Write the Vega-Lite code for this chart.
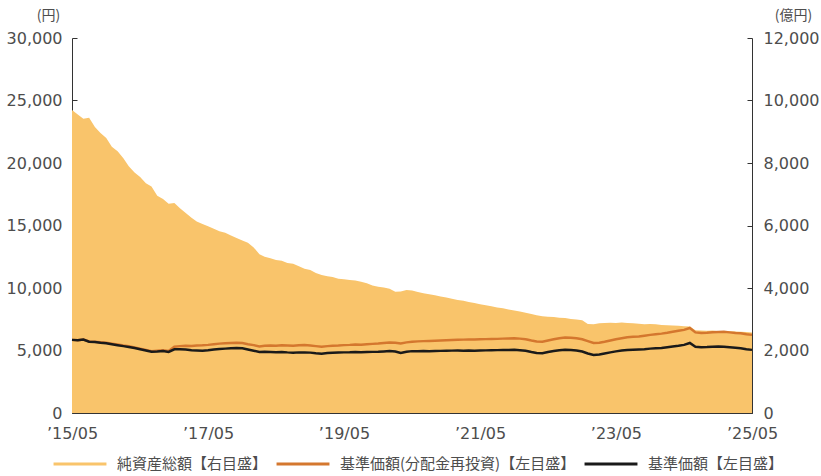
{
"$schema": "https://vega.github.io/schema/vega-lite/v6.json",
"width": 680, "height": 375,
"autosize": {"type": "none"},
"padding": {"left": 72, "top": 38, "right": 69, "bottom": 63},
"background": "white",
"config": {
  "view": {"stroke": null},
  "font": "Noto Sans CJK JP",
  "axis": {"grid": false, "domainColor": "#333333", "domainWidth": 1, "tickColor": "#333333", "tickWidth": 1, "tickSize": -5, "labelColor": "#4d4d4d", "labelFont": "DejaVu Sans, Noto Sans CJK JP", "labelFontSize": 16, "titleFont": "Noto Sans CJK JP", "titleFontSize": 14, "titleFontWeight": "normal", "titleColor": "#4d4d4d"}
},
"data": {"values": [
{"d":"2015-05-01","nav":9700,"reinv":5850,"price":5850},
{"d":"2015-06-01","nav":9550,"reinv":5820,"price":5820},
{"d":"2015-07-01","nav":9420,"reinv":5880,"price":5880},
{"d":"2015-08-01","nav":9450,"reinv":5720,"price":5700},
{"d":"2015-09-01","nav":9150,"reinv":5700,"price":5680},
{"d":"2015-10-01","nav":8960,"reinv":5660,"price":5620},
{"d":"2015-11-01","nav":8800,"reinv":5620,"price":5580},
{"d":"2015-12-01","nav":8520,"reinv":5550,"price":5500},
{"d":"2016-01-01","nav":8380,"reinv":5480,"price":5420},
{"d":"2016-02-01","nav":8150,"reinv":5400,"price":5350},
{"d":"2016-03-01","nav":7900,"reinv":5350,"price":5280},
{"d":"2016-04-01","nav":7700,"reinv":5250,"price":5200},
{"d":"2016-05-01","nav":7550,"reinv":5150,"price":5100},
{"d":"2016-06-01","nav":7350,"reinv":5050,"price":5000},
{"d":"2016-07-01","nav":7250,"reinv":4950,"price":4900},
{"d":"2016-08-01","nav":6950,"reinv":4980,"price":4920},
{"d":"2016-09-01","nav":6850,"reinv":5020,"price":4960},
{"d":"2016-10-01","nav":6700,"reinv":4960,"price":4880},
{"d":"2016-11-01","nav":6720,"reinv":5300,"price":5100},
{"d":"2016-12-01","nav":6550,"reinv":5350,"price":5100},
{"d":"2017-01-01","nav":6400,"reinv":5380,"price":5080},
{"d":"2017-02-01","nav":6250,"reinv":5360,"price":5020},
{"d":"2017-03-01","nav":6130,"reinv":5400,"price":5000},
{"d":"2017-04-01","nav":6050,"reinv":5420,"price":4980},
{"d":"2017-05-01","nav":5980,"reinv":5450,"price":5020},
{"d":"2017-06-01","nav":5900,"reinv":5500,"price":5080},
{"d":"2017-07-01","nav":5820,"reinv":5550,"price":5120},
{"d":"2017-08-01","nav":5770,"reinv":5580,"price":5150},
{"d":"2017-09-01","nav":5680,"reinv":5600,"price":5180},
{"d":"2017-10-01","nav":5600,"reinv":5620,"price":5200},
{"d":"2017-11-01","nav":5520,"reinv":5600,"price":5180},
{"d":"2017-12-01","nav":5450,"reinv":5500,"price":5080},
{"d":"2018-01-01","nav":5300,"reinv":5430,"price":4980},
{"d":"2018-02-01","nav":5080,"reinv":5330,"price":4880},
{"d":"2018-03-01","nav":5000,"reinv":5380,"price":4900},
{"d":"2018-04-01","nav":4950,"reinv":5400,"price":4880},
{"d":"2018-05-01","nav":4900,"reinv":5380,"price":4860},
{"d":"2018-06-01","nav":4870,"reinv":5420,"price":4880},
{"d":"2018-07-01","nav":4800,"reinv":5400,"price":4850},
{"d":"2018-08-01","nav":4780,"reinv":5380,"price":4830},
{"d":"2018-09-01","nav":4700,"reinv":5420,"price":4850},
{"d":"2018-10-01","nav":4620,"reinv":5430,"price":4850},
{"d":"2018-11-01","nav":4580,"reinv":5400,"price":4830},
{"d":"2018-12-01","nav":4480,"reinv":5350,"price":4780},
{"d":"2019-01-01","nav":4420,"reinv":5300,"price":4750},
{"d":"2019-02-01","nav":4380,"reinv":5350,"price":4800},
{"d":"2019-03-01","nav":4350,"reinv":5380,"price":4820},
{"d":"2019-04-01","nav":4300,"reinv":5400,"price":4840},
{"d":"2019-05-01","nav":4280,"reinv":5430,"price":4850},
{"d":"2019-06-01","nav":4260,"reinv":5450,"price":4860},
{"d":"2019-07-01","nav":4240,"reinv":5480,"price":4880},
{"d":"2019-08-01","nav":4200,"reinv":5470,"price":4870},
{"d":"2019-09-01","nav":4150,"reinv":5500,"price":4880},
{"d":"2019-10-01","nav":4080,"reinv":5530,"price":4890},
{"d":"2019-11-01","nav":4040,"reinv":5560,"price":4900},
{"d":"2019-12-01","nav":4020,"reinv":5600,"price":4920},
{"d":"2020-01-01","nav":3980,"reinv":5640,"price":4950},
{"d":"2020-02-01","nav":3880,"reinv":5620,"price":4920},
{"d":"2020-03-01","nav":3890,"reinv":5560,"price":4800},
{"d":"2020-04-01","nav":3940,"reinv":5650,"price":4900},
{"d":"2020-05-01","nav":3920,"reinv":5700,"price":4950},
{"d":"2020-06-01","nav":3870,"reinv":5730,"price":4950},
{"d":"2020-07-01","nav":3830,"reinv":5750,"price":4960},
{"d":"2020-08-01","nav":3800,"reinv":5760,"price":4950},
{"d":"2020-09-01","nav":3770,"reinv":5780,"price":4960},
{"d":"2020-10-01","nav":3730,"reinv":5800,"price":4970},
{"d":"2020-11-01","nav":3700,"reinv":5820,"price":4980},
{"d":"2020-12-01","nav":3660,"reinv":5840,"price":4990},
{"d":"2021-01-01","nav":3620,"reinv":5860,"price":5000},
{"d":"2021-02-01","nav":3590,"reinv":5870,"price":4990},
{"d":"2021-03-01","nav":3550,"reinv":5880,"price":5000},
{"d":"2021-04-01","nav":3520,"reinv":5880,"price":4990},
{"d":"2021-05-01","nav":3480,"reinv":5900,"price":5000},
{"d":"2021-06-01","nav":3450,"reinv":5910,"price":5010},
{"d":"2021-07-01","nav":3420,"reinv":5920,"price":5020},
{"d":"2021-08-01","nav":3380,"reinv":5930,"price":5030},
{"d":"2021-09-01","nav":3350,"reinv":5950,"price":5040},
{"d":"2021-10-01","nav":3310,"reinv":5960,"price":5040},
{"d":"2021-11-01","nav":3280,"reinv":5980,"price":5050},
{"d":"2021-12-01","nav":3250,"reinv":5950,"price":5020},
{"d":"2022-01-01","nav":3210,"reinv":5900,"price":4980},
{"d":"2022-02-01","nav":3170,"reinv":5800,"price":4880},
{"d":"2022-03-01","nav":3130,"reinv":5720,"price":4800},
{"d":"2022-04-01","nav":3100,"reinv":5700,"price":4780},
{"d":"2022-05-01","nav":3080,"reinv":5800,"price":4880},
{"d":"2022-06-01","nav":3070,"reinv":5900,"price":4960},
{"d":"2022-07-01","nav":3050,"reinv":5980,"price":5020},
{"d":"2022-08-01","nav":3040,"reinv":6030,"price":5060},
{"d":"2022-09-01","nav":3010,"reinv":6020,"price":5040},
{"d":"2022-10-01","nav":2990,"reinv":5980,"price":5000},
{"d":"2022-11-01","nav":2970,"reinv":5900,"price":4920},
{"d":"2022-12-01","nav":2850,"reinv":5750,"price":4760},
{"d":"2023-01-01","nav":2840,"reinv":5600,"price":4640},
{"d":"2023-02-01","nav":2870,"reinv":5620,"price":4680},
{"d":"2023-03-01","nav":2880,"reinv":5700,"price":4760},
{"d":"2023-04-01","nav":2890,"reinv":5800,"price":4850},
{"d":"2023-05-01","nav":2880,"reinv":5900,"price":4930},
{"d":"2023-06-01","nav":2900,"reinv":5980,"price":5000},
{"d":"2023-07-01","nav":2880,"reinv":6060,"price":5040},
{"d":"2023-08-01","nav":2870,"reinv":6100,"price":5060},
{"d":"2023-09-01","nav":2860,"reinv":6120,"price":5080},
{"d":"2023-10-01","nav":2840,"reinv":6180,"price":5100},
{"d":"2023-11-01","nav":2850,"reinv":6250,"price":5150},
{"d":"2023-12-01","nav":2840,"reinv":6300,"price":5180},
{"d":"2024-01-01","nav":2820,"reinv":6350,"price":5200},
{"d":"2024-02-01","nav":2810,"reinv":6420,"price":5260},
{"d":"2024-03-01","nav":2800,"reinv":6500,"price":5320},
{"d":"2024-04-01","nav":2790,"reinv":6580,"price":5380},
{"d":"2024-05-01","nav":2780,"reinv":6650,"price":5450},
{"d":"2024-06-01","nav":2770,"reinv":6800,"price":5600},
{"d":"2024-07-01","nav":2650,"reinv":6450,"price":5300},
{"d":"2024-08-01","nav":2640,"reinv":6400,"price":5270},
{"d":"2024-09-01","nav":2630,"reinv":6420,"price":5280},
{"d":"2024-10-01","nav":2640,"reinv":6460,"price":5300},
{"d":"2024-11-01","nav":2620,"reinv":6480,"price":5320},
{"d":"2024-12-01","nav":2610,"reinv":6500,"price":5300},
{"d":"2025-01-01","nav":2620,"reinv":6450,"price":5260},
{"d":"2025-02-01","nav":2610,"reinv":6400,"price":5220},
{"d":"2025-03-01","nav":2600,"reinv":6380,"price":5180},
{"d":"2025-04-01","nav":2590,"reinv":6300,"price":5100},
{"d":"2025-05-01","nav":2580,"reinv":6250,"price":5050}
]},
"layer": [
  {
    "mark": {"type": "area", "opacity": 1},
    "encoding": {
      "x": {"field": "d", "type": "temporal", "scale": {"type": "utc", "domain": [{"year": 2015, "month": 5, "date": 1, "utc": true}, {"year": 2025, "month": 5, "date": 1, "utc": true}]},
            "axis": {"title": null, "labelExpr": "'’' + utcFormat(datum.value, '%y/%m')", "values": [{"year": 2015, "month": 5, "date": 1, "utc": true}, {"year": 2017, "month": 5, "date": 1, "utc": true}, {"year": 2019, "month": 5, "date": 1, "utc": true}, {"year": 2021, "month": 5, "date": 1, "utc": true}, {"year": 2023, "month": 5, "date": 1, "utc": true}, {"year": 2025, "month": 5, "date": 1, "utc": true}], "labelPadding": 17, "labelFlush": false}},
      "y": {"field": "nav", "type": "quantitative", "scale": {"domain": [0, 12000], "nice": false},
            "axis": {"orient": "right", "values": [0, 2000, 4000, 6000, 8000, 10000, 12000], "labelExpr": "format(datum.value, ',.0f')", "title": "(億円)", "titleAngle": 0, "titleAlign": "center", "titleBaseline": "middle", "titleX": 41, "titleY": -23, "labelPadding": 16}},
      "color": {"datum": "純資産総額【右目盛】", "type": "nominal",
                "scale": {"domain": ["純資産総額【右目盛】", "基準価額(分配金再投資)【左目盛】", "基準価額【左目盛】"], "range": ["#F9C46B", "#D4772E", "#1a1a1a"]},
                "legend": {"title": null, "orient": "none", "legendX": -20, "legendY": 398, "direction": "horizontal", "symbolType": "stroke", "symbolSize": 2800, "symbolStrokeWidth": 3, "labelFontSize": 15, "labelColor": "#4d4d4d", "labelFont": "Noto Sans CJK JP", "labelLimit": 0, "labelOffset": 9, "columnPadding": 2,
                  "encode": {"symbols": {"update": {"fill": {"value": "transparent"}, "stroke": {"scale": "color", "field": "value"}, "strokeWidth": {"signal": "datum.value === '純資産総額【右目盛】' ? 9 : 2.5"}, "opacity": {"value": 1}}}}}}
    }
  },
  {
    "layer": [
      {
        "mark": {"type": "line", "strokeWidth": 2.5},
        "encoding": {
          "x": {"field": "d", "type": "temporal"},
          "y": {"field": "reinv", "type": "quantitative", "scale": {"domain": [0, 30000], "nice": false},
                "axis": {"orient": "left", "values": [0, 5000, 10000, 15000, 20000, 25000, 30000], "labelExpr": "format(datum.value, ',.0f')", "title": "(円)", "titleAngle": 0, "titleAlign": "center", "titleBaseline": "middle", "titleX": -24, "titleY": -23, "labelPadding": 15}},
          "color": {"datum": "基準価額(分配金再投資)【左目盛】", "type": "nominal"}
        }
      },
      {
        "mark": {"type": "line", "strokeWidth": 2.5},
        "encoding": {
          "x": {"field": "d", "type": "temporal"},
          "y": {"field": "price", "type": "quantitative"},
          "color": {"datum": "基準価額【左目盛】", "type": "nominal"}
        }
      }
    ]
  }
],
"resolve": {"scale": {"y": "independent"}}
}
